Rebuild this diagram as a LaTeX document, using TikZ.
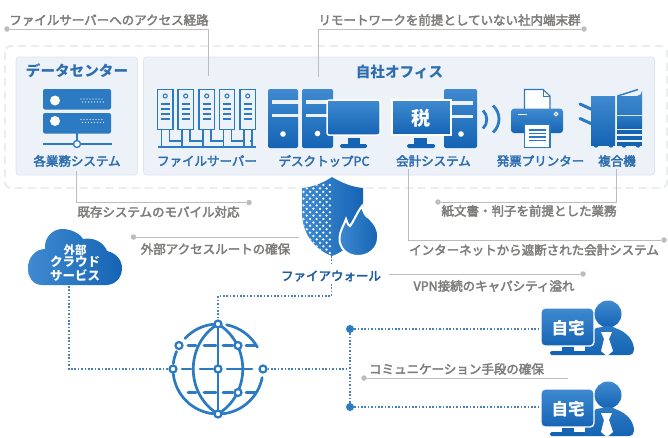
\documentclass[tikz,border=0pt]{standalone}
\usepackage{fontspec}
\setmainfont{Noto Sans CJK JP}
\newfontfamily\jpm[FakeBold=3]{Noto Sans CJK JP}
\usetikzlibrary{calc}
\definecolor{gtext}{HTML}{7F7D7B}
\definecolor{gline}{HTML}{BDBDBD}
\definecolor{panelf}{HTML}{EDF2F9}
\definecolor{panell}{HTML}{DCE6F3}
\definecolor{dashc}{HTML}{DFE6EE}
\definecolor{bluetxt}{HTML}{2E6DAE}
\definecolor{bluedk}{HTML}{1D5C9E}
\definecolor{icona}{HTML}{3F8AD0}
\definecolor{iconb}{HTML}{1564B4}
\definecolor{iconl}{HTML}{2C7AC2}
\definecolor{dotc}{HTML}{4A80B4}
\tikzset{
  note/.style={font=\jpm\fontsize{12.5}{13}\selectfont,text=gtext,inner sep=0pt},
  lbl/.style={font=\jpm\fontsize{12.5}{13}\selectfont,text=bluetxt,inner sep=0pt},
  ttl/.style={font=\bfseries\fontsize{14.6}{15}\selectfont,text=bluetxt,inner sep=0pt},
  wht/.style={font=\bfseries,text=white,inner sep=0pt},
  leader/.style={draw=gline,line width=1pt},
  enddot/.style={circle,fill=gline,minimum size=5.5pt,inner sep=0pt},
  panel/.style={fill=panelf,draw=panell,line width=.8pt,rounded corners=3pt},
  grad/.style={top color=icona,bottom color=iconb},
  link/.style={draw=dotc,line width=1.6pt,dash pattern=on 1.6pt off 1.8pt},
  gl/.style={draw=iconl,line width=2.7pt,line cap=round},
  gnode/.style={circle,draw=iconl,fill=white,line width=2.2pt,minimum size=7pt,inner sep=0pt},
  fs/.style={draw=iconl,line width=1.1pt},
}
\newcommand\homeuser[2]{%
 \begin{scope}[yshift=-#1pt]
  \shade[grad] (608,314) circle (13.5);
  \shade[top color=iconl,bottom color=iconb] (596,328) .. controls (603,327) and (605,326) .. (608,326) .. controls (612,326) and (615,328) .. (620,330)
     .. controls (630,335) and (634,343) .. (634,350) .. controls (634,353) and (632,355) .. (628,355) -- (585,355) -- (585,340) -- cycle;
  \fill[white] (601,332) -- (612,332) -- (609,339) -- (613,351) -- (607,356) -- (601,351) -- (604,339) -- cycle;
  \shade[grad,draw=white,line width=1.3pt,rounded corners=4pt] (541,308) rectangle (594,346);
  \fill[iconb] (562,347) rectangle (574,351);
  \fill[iconb,rounded corners=1.5pt] (550,351) rectangle (586,355);
  \node[wht,font=\bfseries\fontsize{16.5}{17}\selectfont] (#2) at (568,328) {自宅};
 \end{scope}}
\begin{document}
\begin{tikzpicture}[x=1pt,y=-1pt]
\useasboundingbox (0,0) rectangle (668,437);
\fill[white] (0,0) rectangle (668,437);
% frames
\draw[dashc,line width=1.3pt,dash pattern=on 8pt off 5pt,rounded corners=6pt] (5,46) rectangle (667,188);
\draw[panel] (16,57) rectangle (137.5,175);
\draw[panel] (143.5,57) rectangle (654.5,175);
\node[ttl] (dc) at (77,71) {データセンター};
\node[ttl] (office) at (399.5,71.5) {自社オフィス};
% data centre server
\fill[iconl,rounded corners=2pt] (43,89) rectangle (111,109.5);
\fill[iconl,rounded corners=2pt] (43,113) rectangle (111,133.5);
\fill[white] (55,100.5) circle (5);
\fill[white] (55,121) circle (5);
\foreach \yy in {0,20.5}\foreach \xx in {81,84,...,102}{
  \fill[white] (\xx,99+\yy) circle (.55); \fill[white] (\xx+1.5,102+\yy) circle (.55);}
\draw[iconl,line width=1.3pt] (77,133) -- (77,141);
\draw[iconl,line width=1.3pt] (42.5,144) -- (112,144);
\draw[iconl,fill=white,line width=1.3pt] (77,144) circle (3.5);
\node[lbl] (l1) at (77,161) {各業務システム};
% file servers
\draw[iconl,line width=1.6pt] (157.5,146.8) -- (256,146.8);
\foreach \xo/\nx in {157.5/178,178/199,199/219.3,219.3/240,240/246}{
  \draw[fs] (\xo,89.5) rectangle (\xo+15.5,129.5);
  \draw[fs] (\xo+7.7,96) circle (2);
  \foreach \yy in {104,109,114,119} \draw[iconl,line width=1.1pt] (\xo+3.5,\yy) -- (\xo+12,\yy);
  \draw[fs] (\xo+4,129.5) -- (\xo+4,146);
  \draw[fs] (\xo+12,129.5) -- (\xo+12,141) -- (\nx+4,141);
}
\draw[fs] (252,141) -- (252,146);
\node[lbl] (l2) at (207,161) {ファイルサーバー};
% desktop PC
\shade[grad,rounded corners=2pt] (268,89) rectangle (298,148);
\shade[grad,rounded corners=2pt] (302,89) rectangle (333,148);
\foreach \xo in {272,306}{
  \fill[panelf] (\xo,100) rectangle (\xo+27,103.5);
  \fill[panelf] (\xo,113.5) rectangle (\xo+27,117);
}
\fill[white] (283,134) circle (2.8);
\fill[white] (317.5,133.5) circle (2.8);
\shade[grad,draw=white,line width=1.5pt,rounded corners=2pt] (327,100) rectangle (380,135);
\fill[iconb] (348,138) rectangle (360,144);
\fill[iconb,rounded corners=1.5pt] (340,144) rectangle (367,148);
\node[lbl] (l3) at (324,161) {デスクトップPC};
% accounting
\shade[grad,rounded corners=2pt] (444,89) rectangle (477,148);
\fill[panelf] (450,101) rectangle (472.5,104.5);
\fill[panelf] (450,114.5) rectangle (472.5,118);
\fill[white] (461,134) circle (2.8);
\shade[grad,draw=white,line width=1.2pt] (392,100) rectangle (451,135);
\node[wht,font=\bfseries\fontsize{19}{20}\selectfont] (tax) at (420.5,118.5) {税};
\fill[iconb] (414,138) rectangle (427,144);
\fill[iconb,rounded corners=1.5pt] (407,144) rectangle (435,148);
\node[lbl] (l4) at (433.5,161) {会計システム};
% waves
\draw[iconl,line width=2.8pt] (483,110.5) .. controls (488,115) and (488,124) .. (483,128.5);
\draw[iconl,line width=2.8pt] (493,105.5) .. controls (501,113) and (501,125) .. (493,132.5);
% printer
\draw[iconl,line width=1.1pt,fill=white] (524.5,109) -- (524.5,89.5) -- (543,89.5) -- (550,96) -- (550,109);
\draw[iconl,line width=1pt] (543,89.5) -- (543,96) -- (550,96);
\shade[grad,rounded corners=3pt] (511,108.7) rectangle (563,133);
\fill[white] (517.5,113.7) rectangle (527,115);
\draw[white,line width=1pt] (556,114) circle (1.8);
\draw[iconl,line width=1.3pt,fill=white] (524.5,124) rectangle (550,147.5);
\foreach \yy in {130,133.5,137,140.5} \draw[iconl,line width=1.4pt] (529,\yy) -- (546,\yy);
\node[lbl] (l5) at (540.5,161) {発票プリンター};
% MFP
\draw[iconl,line width=3pt,line cap=round] (580,104) -- (592,109.5);
\draw[iconl,line width=3pt,line cap=round] (580,118.5) -- (592,124);
\shade[grad] (591,96) rectangle (615,145);
\shade[top color=icona,bottom color=iconl] (617,96) -- (637,96) arc[start angle=90,end angle=0,radius=5] -- (642,115) -- (617,115) -- cycle;
\shade[top color=iconl,bottom color=iconb] (617,116.5) rectangle (642,128);
\fill[iconb] (617,130) rectangle (642,134);
\fill[iconb] (617,136) rectangle (642,140);
\fill[iconb] (617,142) rectangle (642,146);
\draw[iconl,line width=1.4pt] (617.5,96) -- (638,89.5);
\foreach \xx in {596,611,624,638} \fill[iconb] (\xx,145.5) circle (2.2);
\node[lbl] (l6) at (617,161) {複合機};
% shield
\coordinate (shieldtop) at (332,177);
\coordinate (shieldbot) at (331.5,256);
\fill[white] (299,176) rectangle (366,190);
\shade[left color=icona,right color=iconb] (332,177) .. controls (342,183) and (352,187) .. (363,188) -- (363,212) .. controls (363,235) and (348,250) .. (332,256) .. controls (316,250) and (302,235) .. (302,212) -- (302,188) .. controls (313,187) and (323,183) .. (332,177) -- cycle;
\begin{scope}
 \clip (332,177) .. controls (323,183) and (313,187) .. (302,188) -- (302,212) .. controls (302,235) and (316,250) .. (332,256) -- cycle;
 \foreach \r in {0,...,21}{
   \pgfmathsetmacro\yy{185+3.4*\r}
   \pgfmathsetmacro\off{mod(\r,2)*3.3}
   \foreach \c in {0,...,4}{
     \fill[white] (303.5+\off+6.6*\c,\yy) circle (1.25);
   }}
\end{scope}
\draw[white,line width=2pt,shade,left color=icona!90!iconl,right color=iconb]
  (358,256) .. controls (347,256) and (339,248) .. (339.5,238) .. controls (340,230) and (344,225) .. (346,219) .. controls (348,225) and (349,226) .. (350,226)
  .. controls (354,221) and (356,214) .. (362,206) .. controls (363,212) and (366,217) .. (369,218) .. controls (375,224) and (379,230) .. (378,238) .. controls (378,248) and (369,256) .. (358,256) -- cycle;
\node[font=\jpm\fontsize{12.5}{13}\selectfont,text=bluedk,inner sep=0pt] (fw) at (331,276) {ファイアウォール};
% cloud
\shade[left color=icona,right color=iconb] (42,285) .. controls (32,285) and (28,276) .. (28,268) .. controls (28,257) and (36,249) .. (45,249)
 .. controls (44,237) and (53,229) .. (62,229) .. controls (72,229) and (80,234) .. (83,239) .. controls (95,237) and (104,243) .. (107,251)
 .. controls (116,253) and (122,260) .. (122,268) .. controls (122,278) and (115,285) .. (106,285) -- cycle;
\node[wht,font=\bfseries\fontsize{11.5}{12}\selectfont] (c1) at (75,250) {外部};
\node[wht,font=\bfseries\fontsize{12.5}{13}\selectfont] (c2) at (75,261.5) {クラウド};
\node[wht,font=\bfseries\fontsize{12.5}{13}\selectfont] (c3) at (75,275) {サービス};
\coordinate (cloudb) at (69,286);
% globe
\begin{scope}[shift={(218,369)},y=1pt]
 \draw[gl] (79:45) arc (79:29:45);
 \draw[gl] (-11:45) arc (-11:-85:45);
 \draw[gl] (-96:45) arc (-96:-174:45);
 \draw[gl] (173:45) arc (173:157:45);
 \draw[gl] (137:45) arc (137:96:45);
 \draw[gl] (0,45) .. controls (-33,25) and (-33,-25) .. (0,-45);
 \draw[gl] (0,45) .. controls (33,25) and (33,-25) .. (0,-45);
 \draw[gl] (0,45) -- (0,-45);
 \foreach \yy in {23.5,-23.5}{
   \foreach \a/\b in {-30/-22,-14/-2,5/15,28/38} \draw[gl] (\a,\yy) -- (\b,\yy);
 }
 \foreach \a/\b in {-36/-27,-18/-5,9/34} \draw[gl] (\a,0) -- (\b,0);
 \node[gnode] (gtop) at (0,45) {};
 \node[gnode] (gbot) at (0,-45) {};
 \node[gnode] (gleft) at (-45,0) {};
 \node[gnode] (gright) at (45,0) {};
 \node[gnode] (gc) at (0,0) {};
 \node[gnode] (g1) at (-39,23.5) {};
 \node[gnode] (g2) at (20,23.5) {};
 \node[gnode] (g3) at (20,-23.5) {};
\end{scope}
% home users
\homeuser{0}{h1}
\homeuser{81}{h2}
\coordinate (h1l) at (541,329);
\coordinate (h2l) at (541,407);
\node[circle,fill=iconl,minimum size=8pt,inner sep=0pt] (j1) at (350,329) {};
\node[circle,fill=iconl,minimum size=8pt,inner sep=0pt] (j2) at (350,407) {};
\coordinate (jm) at (349,369);
% dotted links
\coordinate (fwa) at (331.5,263);
\coordinate (fwb) at (331.5,284);
\coordinate (corner1) at (331.5,296);
\coordinate (corner2) at (218,296);
\coordinate (corner3) at (69,369);
\draw[link] (shieldbot) -- (fwa);
\draw[link] (fwb) -- (corner1) -- (corner2) -- (gtop);
\draw[link] (cloudb) -- (corner3) -- (gleft);
\draw[link] (gright) -- (jm);
\draw[link] (j1) -- (j2);
\draw[link] (j1) -- (h1l);
\draw[link] (j2) -- (h2l);
% notes
\node[note] (n1) at (109,20) {ファイルサーバーへのアクセス経路};
\node[note] (n2) at (449.5,20) {リモートワークを前提としていない社内端末群};
\node[note] (n3) at (158.5,212) {既存システムのモバイル対応};
\node[note] (n4) at (529,211) {紙文書・判子を前提とした業務};
\node[note] (n5) at (215.5,249) {外部アクセスルートの確保};
\node[note] (n6) at (534,250) {インターネットから遮断された会計システム};
\node[note] (n7) at (494,286) {VPN接続のキャパシティ溢れ};
\node[note] (n8) at (456.5,369) {コミュニケーション手段の確保};
% leaders
\node[enddot] (d1) at (7,29) {};
\coordinate (e1) at (208,76);
\draw[leader] (d1) -- (e1 |- d1) -- (e1);
\node[enddot] (d2) at (584,29) {};
\coordinate (e2) at (318,77);
\draw[leader] (d2) -- (e2 |- d2) -- (e2);
\node[enddot] (d3) at (249,202.5) {};
\coordinate (e3) at (76,171);
\draw[leader] (d3) -- (e3 |- d3) -- (e3);
\node[enddot] (d4) at (438,202) {};
\coordinate (e4) at (616,169);
\draw[leader] (d4) -- (e4 |- d4) -- (e4);
\node[enddot] (d5) at (664,240) {};
\coordinate (e5) at (408,169);
\draw[leader] (d5) -- (e5 |- d5) -- (e5);
\node[enddot] (d6) at (133.5,237) {};
\coordinate (e6) at (299,237);
\draw[leader] (d6) -- (e6);
\node[enddot] (d7) at (583,274) {};
\coordinate (e7) at (389,274);
\draw[leader] (d7) -- (e7);
\node[enddot] (d8) at (364,378) {};
\coordinate (e8) at (568,378);
\draw[leader] (d8) -- (e8);
\end{tikzpicture}
\end{document}
